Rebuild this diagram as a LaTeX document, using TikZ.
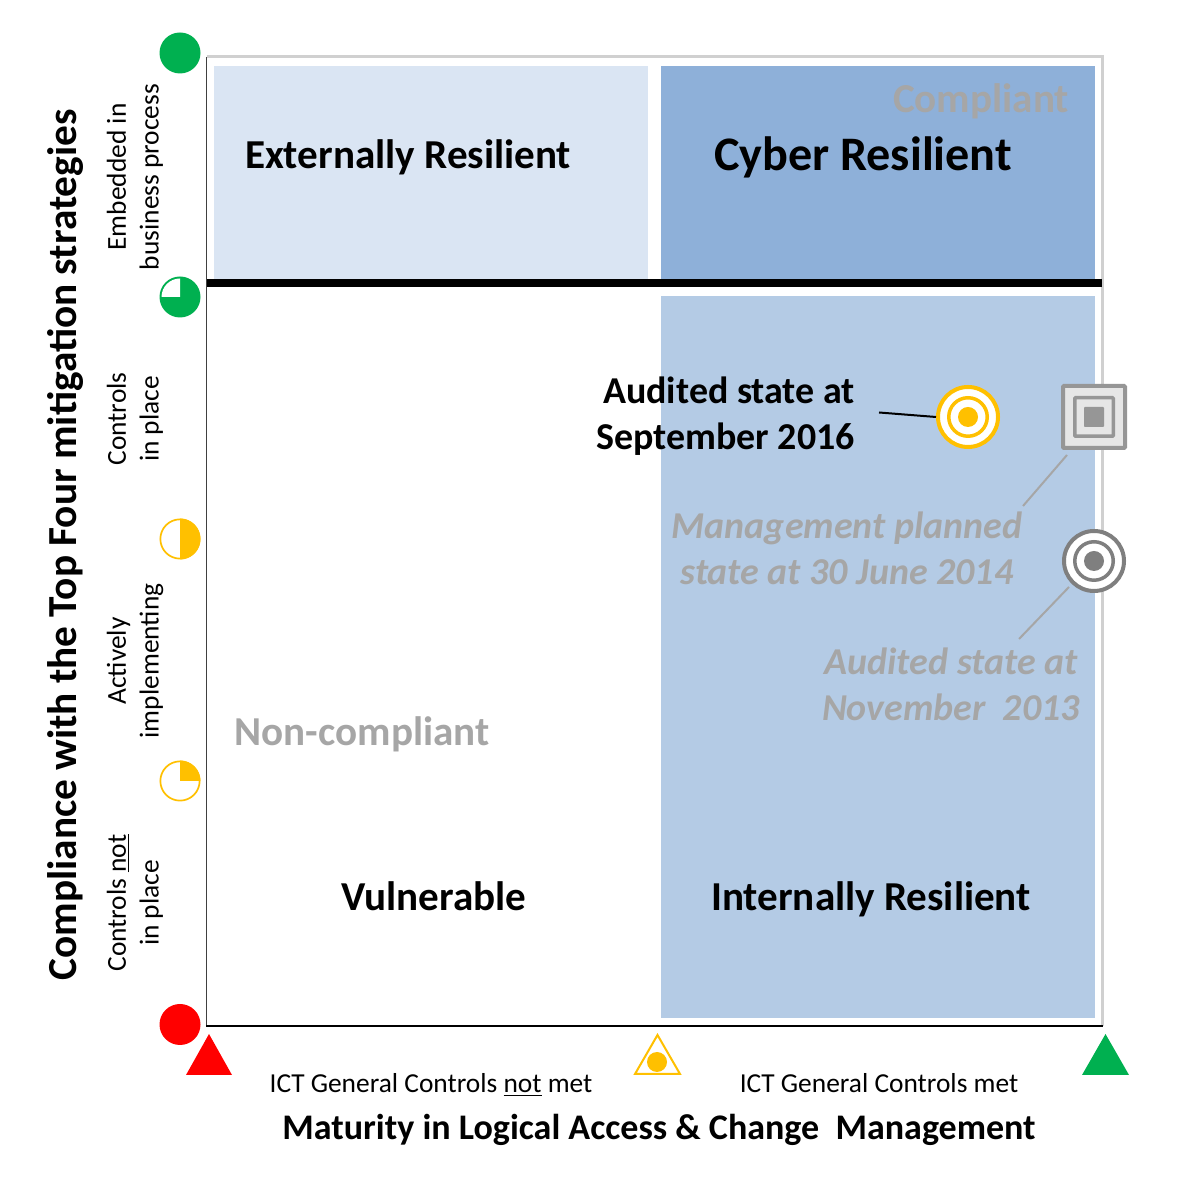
\documentclass[tikz,border=0pt]{standalone}
\usepackage{fontspec}
\setmainfont{Carlito}
\definecolor{paleblue}{HTML}{DAE5F3}
\definecolor{midblue}{HTML}{8EB0D9}
\definecolor{softblue}{HTML}{B4CBE5}
\definecolor{ampel}{HTML}{FFC000}
\definecolor{gruen}{HTML}{00B050}
\definecolor{greytext}{HTML}{A6A6A6}
\definecolor{greyline}{HTML}{D0D0D0}
\definecolor{greymark}{HTML}{7F7F7F}
\definecolor{greysquare}{HTML}{969696}
\definecolor{greyfill}{HTML}{E6E6E6}
\begin{document}
\begin{tikzpicture}[x=0.02cm,y=0.02cm]

    \tikzset{
      px/.style={line width=#1*0.02cm},
      region/.style={font=\bfseries\fontsize{23.4}{28}\selectfont},
      note/.style={font=\bfseries\fontsize{21.6}{26}\selectfont,align=center},
      faint/.style={note,text=greytext},
      side/.style={font=\fontsize{15.6}{18.6}\selectfont,align=center,rotate=90},
      axislabel/.style={font=\fontsize{15.6}{18}\selectfont},
      level/.style={circle,inner sep=0pt,minimum size=41*0.02cm},
      ring/.style={circle,inner sep=0pt,fill=white,px=#1},
      square/.style={rectangle,inner sep=0pt,rounded corners=0.5pt,draw=greysquare,fill=greyfill},
    }
    \useasboundingbox (0,0) rectangle (1179,1179);

    \fill[paleblue] (214,1113) rectangle (648,900);
    \fill[midblue] (661,1113) rectangle (1095,900);
    \fill[softblue] (661,883) rectangle (1095,161);

    \draw[greyline,px=3] (206.5,1122)--(1102.5,1122)--(1102.5,153);
    \draw[black!75,px=1.5] (206.5,1122)--(206.5,153);
    \draw[black,px=1.5] (206,153)--(1103,153);
    \draw[black,px=8] (207,896)--(1102,896);

    % levels on the vertical axis
    \node[level,fill=gruen] (full) at (180,1126) {};
    \node[level,fill=gruen] (most) at (180,882) {};
    \fill[white] (most.center)--++(-18.5,0) arc[start angle=180,end angle=90,radius=18.5]--cycle;
    \node[level,draw=ampel,px=1.7,fill=white,minimum size=39.3*0.02cm] (half) at (180,640) {};
    \fill[ampel] (half.center)--++(0,20.5) arc[start angle=90,end angle=-90,radius=20.5]--cycle;
    \node[level,draw=ampel,px=1.7,fill=white,minimum size=39.3*0.02cm] (part) at (180,398) {};
    \fill[ampel] (part.center)--++(0,20.5) arc[start angle=90,end angle=0,radius=20.5]--cycle;
    \node[level,fill=red] (none) at (180,154.5) {};

    % marks on the horizontal axis
    \fill[red] (186,104)--(209,145)--(232,104)--cycle;
    \draw[ampel,px=2,fill=white] (635,105)--(657.5,144)--(680,105)--cycle;
    \node[circle,inner sep=0pt,minimum size=20*0.02cm,fill=ampel] (mid) at (657,117) {};
    \fill[gruen] (1082,104)--(1105.5,145)--(1129,104)--cycle;

    % the three states
    \node[ring=4,draw=ampel,minimum size=60*0.02cm] (audited) at (968,762) {};
    \node[ring=3.5,draw=ampel,minimum size=38.5*0.02cm] at (audited) {};
    \node[circle,inner sep=0pt,minimum size=20*0.02cm,fill=ampel] at (audited) {};

    \node[square,px=4,minimum size=62*0.02cm] (planned) at (1094,762) {};
    \node[square,px=3.5,minimum size=38.5*0.02cm] at (planned) {};
    \node[square,draw=none,fill=greysquare,minimum size=20*0.02cm] at (planned) {};

    \node[ring=4,draw=greymark,minimum size=60*0.02cm] (earlier) at (1094,618) {};
    \node[ring=3.5,draw=greymark,minimum size=38.5*0.02cm] at (earlier) {};
    \node[circle,inner sep=0pt,minimum size=20*0.02cm,fill=greymark] at (earlier) {};

    \coordinate (auditedend) at (879,766.5);
    \coordinate (plannedend) at (1023,673);
    \coordinate (earlierend) at (1019,540);
    \draw[black,px=2] (auditedend)--(audited.west);
    \draw[greytext,px=2] (plannedend)--([shift={(6,-5)}]planned.south west);
    \draw[greytext,px=2] (earlierend)--([shift={(-25,6)}]earlier.south);

    % regions
    \node[region] (external) at (408,1022) {Externally Resilient};
    \node[region,font=\bfseries\fontsize{27.4}{32}\selectfont] (cyber) at (863,1022) {Cyber Resilient};
    \node[region,text=greytext] (compliant) at (981,1078) {Compliant};
    \node[region,text=greytext] (noncompliant) at (362,445) {Non-compliant};
    \node[region] (vulnerable) at (434,283) {Vulnerable};
    \node[region] (internal) at (871,280) {Internally Resilient};

    \node[note,align=right,anchor=east] (auditedtext) at (861,763) {Audited state at\\September 2016};
    \node[faint,font=\bfseries\itshape\fontsize{21.6}{26}\selectfont] (plannedtext) at (847,631) {Management planned\\state at 30 June 2014};
    \node[faint,font=\bfseries\itshape\fontsize{21.6}{26}\selectfont] (earliertext) at (951,495) {Audited state at\\November\ \ 2013};

    % axis text
    \node[side,font=\bfseries\fontsize{23.5}{28}\selectfont] (yaxis) at (65,634) {Compliance with the Top Four mitigation strategies};
    \node[side] (embedded) at (135,1002) {Embedded in\\business process};
    \node[side] (inplace) at (135,760) {Controls\\in place};
    \node[side] (actively) at (135,518) {Actively\\implementing};
    \node[side] (notinplace) at (135,276) {Controls \underline{not}\\in place};

    \node[axislabel] (notmet) at (431,94) {ICT General Controls \underline{not} met};
    \node[axislabel] (met) at (879,96) {ICT General Controls met};
    \node[region,font=\bfseries\fontsize{20.5}{24}\selectfont] (xaxis) at (659,49) {Maturity in Logical Access \& Change\ \ Management};

\end{tikzpicture}
\end{document}
